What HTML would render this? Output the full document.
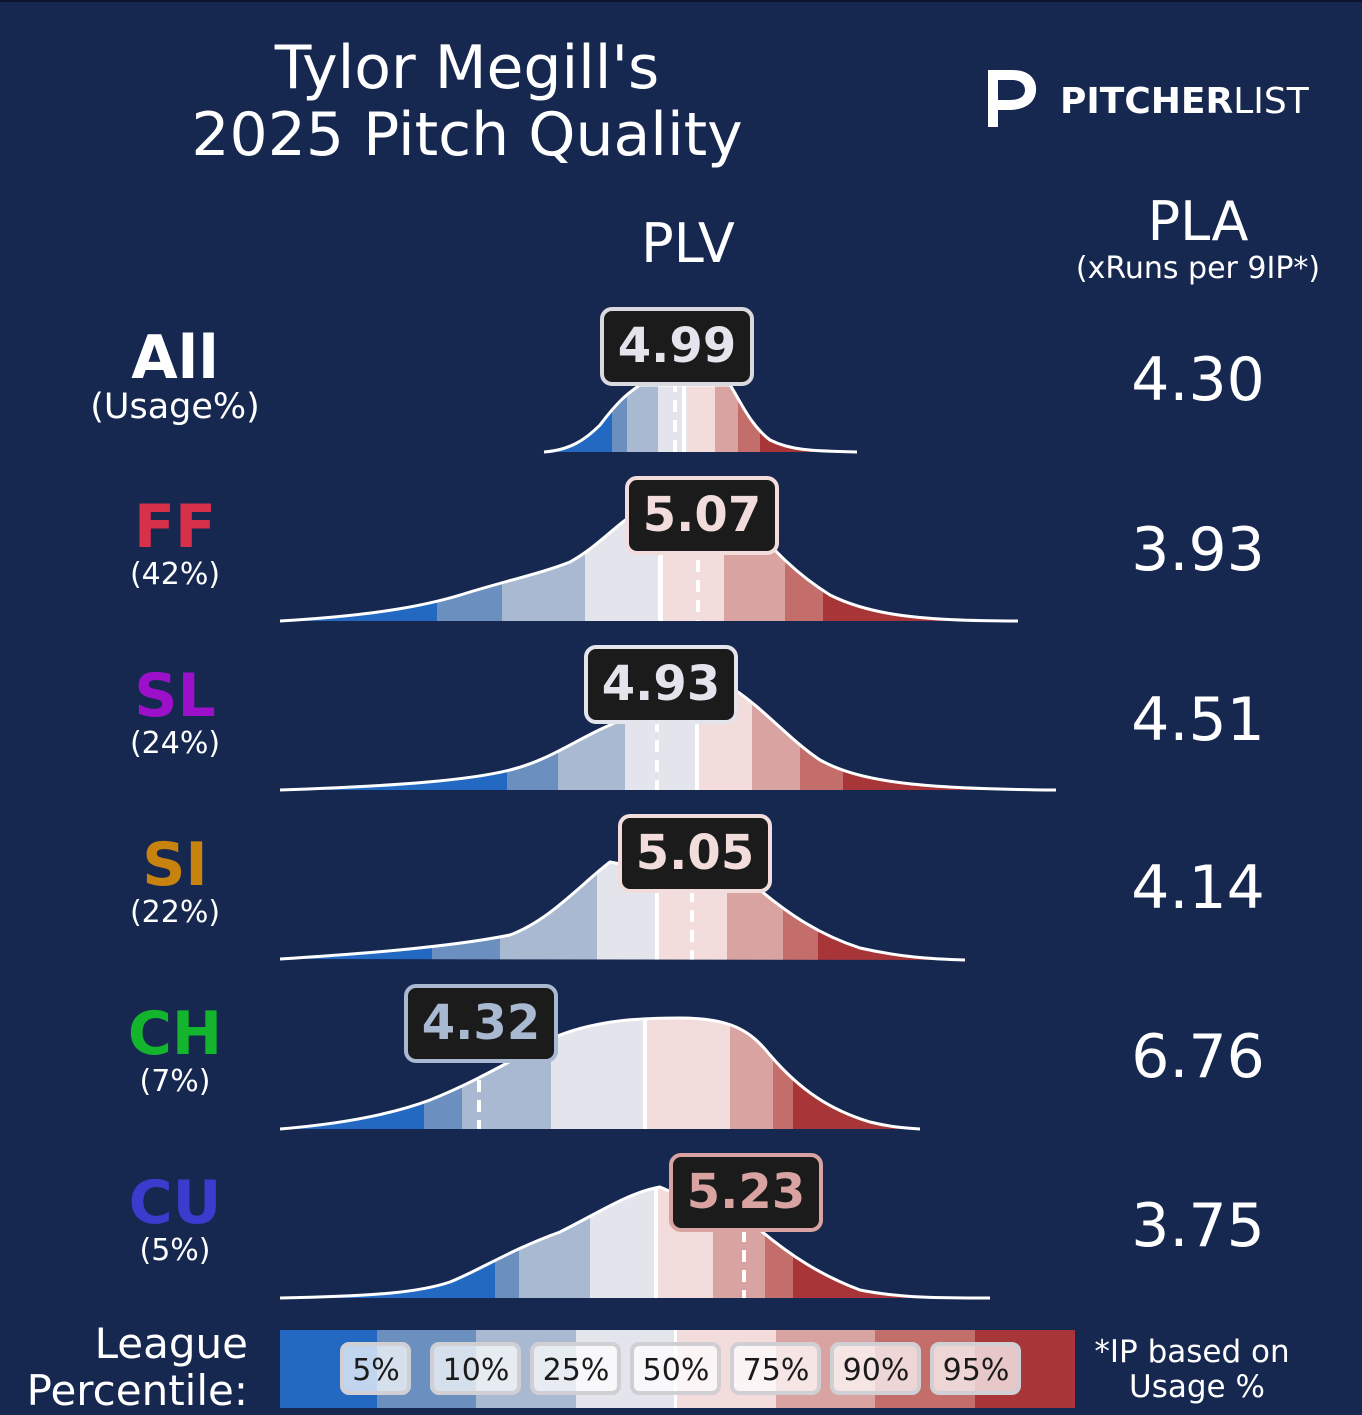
<!DOCTYPE html>
<html><head><meta charset="utf-8"><style>
html,body{margin:0;padding:0;background:#172850;}
svg{display:block;}
text{font-family:"DejaVu Sans","Liberation Sans",sans-serif;}
</style></head><body>
<svg width="1362" height="1415" viewBox="0 0 1362 1415" xmlns="http://www.w3.org/2000/svg">
<rect width="1362" height="1415" fill="#172850"/>
<rect width="1362" height="2" fill="#0b1530"/>
<defs>
<clipPath id="c0"><path d="M544,452 C570,450 585,440 600,425 C615,405 625,395 640,385 L730,385 C740,400 750,425 770,440 C790,450 810,451 857,452 Z"/></clipPath>
<clipPath id="c1"><path d="M280,621 C380,615 430,605 470,592 C510,580 545,572 570,562 C600,545 615,525 640,510 L740,512 C770,545 790,570 830,595 C870,615 920,621 1018,621 Z"/></clipPath>
<clipPath id="c2"><path d="M280,790 C400,786 470,780 510,770 C550,760 575,740 610,725 C625,718 635,712 650,705 L735,690 C765,710 790,740 820,760 C860,782 920,789 1056,790 Z"/></clipPath>
<clipPath id="c3"><path d="M280,959 C390,952 460,945 510,935 C550,920 580,885 610,862 L760,890 C790,915 820,935 860,948 C900,957 930,959 965,960 Z"/></clipPath>
<clipPath id="c4"><path d="M280,1129 C340,1124 390,1115 430,1100 C480,1080 520,1055 560,1035 C600,1020 640,1018 680,1018 C730,1018 750,1030 770,1055 C800,1090 830,1110 870,1122 C890,1127 905,1128 920,1129 Z"/></clipPath>
<clipPath id="c5"><path d="M280,1298 C380,1296 420,1292 450,1282 C480,1270 510,1250 560,1232 C600,1212 630,1192 660,1187 L760,1230 C790,1255 820,1275 860,1290 C900,1298 940,1298 990,1298 Z"/></clipPath>
</defs>

<text x="467" y="88" font-size="60" fill="#fff" text-anchor="middle">Tylor Megill's</text>
<text x="467" y="155" font-size="60" fill="#fff" text-anchor="middle">2025 Pitch Quality</text>
<path d="M988,70 L998,70 L998,127 L988,127 Z" fill="#fff"/>
<path d="M988,70 L1012,70 C1030,70 1037,80 1036,91 C1035,103 1025,110 1008,110 L998,110 L998,100 L1010,100 C1020,100 1025,96 1025,90 C1025,84 1020,80 1012,80 L988,80 Z" fill="#fff"/>
<text x="1060" y="113" font-size="36" fill="#fff" font-weight="bold">PITCHER<tspan font-weight="normal">LIST</tspan></text>

<text x="688" y="262" font-size="54" fill="#fff" text-anchor="middle">PLV</text>
<text x="1198" y="240" font-size="54" fill="#fff" text-anchor="middle">PLA</text>
<text x="1198" y="278" font-size="30" fill="#fff" text-anchor="middle">(xRuns per 9IP*)</text>

<text x="175" y="378" font-size="60" font-weight="bold" fill="#fff" text-anchor="middle">All</text>
<text x="175" y="418" font-size="35" fill="#fff" text-anchor="middle">(Usage%)</text>
<text x="175" y="547" font-size="60" font-weight="bold" fill="#d7304a" text-anchor="middle">FF</text>
<text x="175" y="584" font-size="30" fill="#fff" text-anchor="middle">(42%)</text>
<text x="175" y="716" font-size="60" font-weight="bold" fill="#9b10c8" text-anchor="middle">SL</text>
<text x="175" y="753" font-size="30" fill="#fff" text-anchor="middle">(24%)</text>
<text x="175" y="885" font-size="60" font-weight="bold" fill="#c8820e" text-anchor="middle">SI</text>
<text x="175" y="922" font-size="30" fill="#fff" text-anchor="middle">(22%)</text>
<text x="175" y="1054" font-size="60" font-weight="bold" fill="#12b52b" text-anchor="middle">CH</text>
<text x="175" y="1091" font-size="30" fill="#fff" text-anchor="middle">(7%)</text>
<text x="175" y="1223" font-size="60" font-weight="bold" fill="#3b3bce" text-anchor="middle">CU</text>
<text x="175" y="1260" font-size="30" fill="#fff" text-anchor="middle">(5%)</text>

<g font-size="60" fill="#fff" text-anchor="middle">
<text x="1198" y="400">4.30</text>
<text x="1198" y="570">3.93</text>
<text x="1198" y="740">4.51</text>
<text x="1198" y="908">4.14</text>
<text x="1198" y="1077">6.76</text>
<text x="1198" y="1246">3.75</text>
</g>

<g clip-path="url(#c0)">
<rect x="540" y="300" width="72" height="160" fill="#2369c2"/>
<rect x="612" y="300" width="15" height="160" fill="#6b8fbf"/>
<rect x="627" y="300" width="31" height="160" fill="#a9b9d2"/>
<rect x="658" y="300" width="29" height="160" fill="#e4e5ec"/>
<rect x="687" y="300" width="28" height="160" fill="#f2dcdc"/>
<rect x="715" y="300" width="23" height="160" fill="#d9a3a1"/>
<rect x="738" y="300" width="22" height="160" fill="#c46e6b"/>
<rect x="760" y="300" width="100" height="160" fill="#a83638"/>
<rect x="682" y="300" width="4" height="160" fill="#fff"/>
<line x1="675" y1="300" x2="675" y2="452" stroke="#fff" stroke-width="4" stroke-dasharray="12,8"/>
</g>
<path d="M544,452 C570,450 585,440 600,425 C615,405 625,395 640,385 L730,385 C740,400 750,425 770,440 C790,450 810,451 857,452" fill="none" stroke="#fff" stroke-width="3"/>
<rect x="602" y="309" width="150" height="75" rx="10" fill="#1b1b1b" stroke="#d9d9e0" stroke-width="4"/>
<text x="677" y="362" font-size="48" font-weight="bold" fill="#e4e5ec" text-anchor="middle">4.99</text>

<g clip-path="url(#c1)">
<rect x="278" y="480" width="159" height="145" fill="#2369c2"/>
<rect x="437" y="480" width="65" height="145" fill="#6b8fbf"/>
<rect x="502" y="480" width="83" height="145" fill="#a9b9d2"/>
<rect x="585" y="480" width="78" height="145" fill="#e4e5ec"/>
<rect x="663" y="480" width="61" height="145" fill="#f2dcdc"/>
<rect x="724" y="480" width="61" height="145" fill="#d9a3a1"/>
<rect x="785" y="480" width="38" height="145" fill="#c46e6b"/>
<rect x="823" y="480" width="200" height="145" fill="#a83638"/>
<rect x="658" y="480" width="5" height="145" fill="#fff"/>
<line x1="698" y1="480" x2="698" y2="621" stroke="#fff" stroke-width="4" stroke-dasharray="12,8"/>
</g>
<path d="M280,621 C380,615 430,605 470,592 C510,580 545,572 570,562 C600,545 615,525 640,510 L740,512 C770,545 790,570 830,595 C870,615 920,621 1018,621" fill="none" stroke="#fff" stroke-width="3"/>
<rect x="627" y="478" width="150" height="75" rx="10" fill="#1b1b1b" stroke="#f2dcdc" stroke-width="4"/>
<text x="702" y="531" font-size="48" font-weight="bold" fill="#f2dcdc" text-anchor="middle">5.07</text>

<g clip-path="url(#c2)">
<rect x="278" y="640" width="229" height="155" fill="#2369c2"/>
<rect x="507" y="640" width="51" height="155" fill="#6b8fbf"/>
<rect x="558" y="640" width="67" height="155" fill="#a9b9d2"/>
<rect x="625" y="640" width="74" height="155" fill="#e4e5ec"/>
<rect x="699" y="640" width="53" height="155" fill="#f2dcdc"/>
<rect x="752" y="640" width="48" height="155" fill="#d9a3a1"/>
<rect x="800" y="640" width="43" height="155" fill="#c46e6b"/>
<rect x="843" y="640" width="220" height="155" fill="#a83638"/>
<rect x="695" y="640" width="4" height="155" fill="#fff"/>
<line x1="657" y1="640" x2="657" y2="790" stroke="#fff" stroke-width="4" stroke-dasharray="12,8"/>
</g>
<path d="M280,790 C400,786 470,780 510,770 C550,760 575,740 610,725 C625,718 635,712 650,705 L735,690 C765,710 790,740 820,760 C860,782 920,789 1056,790" fill="none" stroke="#fff" stroke-width="3"/>
<rect x="586" y="647" width="150" height="75" rx="10" fill="#1b1b1b" stroke="#e4e5ec" stroke-width="4"/>
<text x="661" y="700" font-size="48" font-weight="bold" fill="#e4e5ec" text-anchor="middle">4.93</text>

<g clip-path="url(#c3)">
<rect x="278" y="810" width="154" height="155" fill="#2369c2"/>
<rect x="432" y="810" width="68" height="155" fill="#6b8fbf"/>
<rect x="500" y="810" width="97" height="155" fill="#a9b9d2"/>
<rect x="597" y="810" width="62" height="155" fill="#e4e5ec"/>
<rect x="659" y="810" width="68" height="155" fill="#f2dcdc"/>
<rect x="727" y="810" width="56" height="155" fill="#d9a3a1"/>
<rect x="783" y="810" width="35" height="155" fill="#c46e6b"/>
<rect x="818" y="810" width="150" height="155" fill="#a83638"/>
<rect x="655" y="810" width="4" height="155" fill="#fff"/>
<line x1="692" y1="810" x2="692" y2="960" stroke="#fff" stroke-width="4" stroke-dasharray="12,8"/>
</g>
<path d="M280,959 C390,952 460,945 510,935 C550,920 580,885 610,862 L760,890 C790,915 820,935 860,948 C900,957 930,959 965,960" fill="none" stroke="#fff" stroke-width="3"/>
<rect x="620" y="816" width="150" height="75" rx="10" fill="#1b1b1b" stroke="#f2dcdc" stroke-width="4"/>
<text x="695" y="869" font-size="48" font-weight="bold" fill="#f2dcdc" text-anchor="middle">5.05</text>

<g clip-path="url(#c4)">
<rect x="278" y="1000" width="146" height="135" fill="#2369c2"/>
<rect x="424" y="1000" width="38" height="135" fill="#6b8fbf"/>
<rect x="462" y="1000" width="89" height="135" fill="#a9b9d2"/>
<rect x="551" y="1000" width="96" height="135" fill="#e4e5ec"/>
<rect x="647" y="1000" width="83" height="135" fill="#f2dcdc"/>
<rect x="730" y="1000" width="43" height="135" fill="#d9a3a1"/>
<rect x="773" y="1000" width="20" height="135" fill="#c46e6b"/>
<rect x="793" y="1000" width="130" height="135" fill="#a83638"/>
<rect x="643" y="1000" width="4" height="135" fill="#fff"/>
<line x1="479" y1="1000" x2="479" y2="1130" stroke="#fff" stroke-width="4" stroke-dasharray="12,8"/>
</g>
<path d="M280,1129 C340,1124 390,1115 430,1100 C480,1080 520,1055 560,1035 C600,1020 640,1018 680,1018 C730,1018 750,1030 770,1055 C800,1090 830,1110 870,1122 C890,1127 905,1128 920,1129" fill="none" stroke="#fff" stroke-width="3"/>
<rect x="406" y="986" width="150" height="75" rx="10" fill="#1b1b1b" stroke="#a9b9d2" stroke-width="4"/>
<text x="481" y="1039" font-size="48" font-weight="bold" fill="#a9b9d2" text-anchor="middle">4.32</text>

<g clip-path="url(#c5)">
<rect x="278" y="1170" width="217" height="135" fill="#2369c2"/>
<rect x="495" y="1170" width="24" height="135" fill="#6b8fbf"/>
<rect x="519" y="1170" width="71" height="135" fill="#a9b9d2"/>
<rect x="590" y="1170" width="68" height="135" fill="#e4e5ec"/>
<rect x="658" y="1170" width="55" height="135" fill="#f2dcdc"/>
<rect x="713" y="1170" width="52" height="135" fill="#d9a3a1"/>
<rect x="765" y="1170" width="28" height="135" fill="#c46e6b"/>
<rect x="793" y="1170" width="200" height="135" fill="#a83638"/>
<rect x="654" y="1170" width="4" height="135" fill="#fff"/>
<line x1="744" y1="1170" x2="744" y2="1299" stroke="#fff" stroke-width="4" stroke-dasharray="12,8"/>
</g>
<path d="M280,1298 C380,1296 420,1292 450,1282 C480,1270 510,1250 560,1232 C600,1212 630,1192 660,1187 L760,1230 C790,1255 820,1275 860,1290 C900,1298 940,1298 990,1298" fill="none" stroke="#fff" stroke-width="3"/>
<rect x="671" y="1155" width="150" height="75" rx="10" fill="#1b1b1b" stroke="#d9a3a1" stroke-width="4"/>
<text x="746" y="1208" font-size="48" font-weight="bold" fill="#d9a3a1" text-anchor="middle">5.23</text>

<text x="248" y="1358" font-size="42" fill="#fff" text-anchor="end">League</text>
<text x="248" y="1405" font-size="42" fill="#fff" text-anchor="end">Percentile:</text>
<rect x="280" y="1330" width="97" height="78" fill="#2369c2"/>
<rect x="377" y="1330" width="99" height="78" fill="#6b8fbf"/>
<rect x="476" y="1330" width="100" height="78" fill="#a9b9d2"/>
<rect x="576" y="1330" width="100" height="78" fill="#e4e5ec"/>
<rect x="676" y="1330" width="100" height="78" fill="#f2dcdc"/>
<rect x="776" y="1330" width="99" height="78" fill="#d9a3a1"/>
<rect x="875" y="1330" width="100" height="78" fill="#c46e6b"/>
<rect x="975" y="1330" width="100" height="78" fill="#a83638"/>
<rect x="674" y="1330" width="3" height="78" fill="#fff"/>
<g fill="#ffffff" fill-opacity="0.72" stroke="#cfcfd4" stroke-width="4">
<rect x="342" y="1344" width="67" height="49" rx="7"/>
<rect x="432" y="1344" width="87" height="49" rx="7"/>
<rect x="532" y="1344" width="87" height="49" rx="7"/>
<rect x="632" y="1344" width="87" height="49" rx="7"/>
<rect x="732" y="1344" width="87" height="49" rx="7"/>
<rect x="832" y="1344" width="87" height="49" rx="7"/>
<rect x="932" y="1344" width="87" height="49" rx="7"/>
</g>
<g font-size="30" fill="#1b1b1b" text-anchor="middle">
<text x="376" y="1380">5%</text>
<text x="476" y="1380">10%</text>
<text x="576" y="1380">25%</text>
<text x="676" y="1380">50%</text>
<text x="776" y="1380">75%</text>
<text x="876" y="1380">90%</text>
<text x="976" y="1380">95%</text>
</g>
<text x="1192" y="1362" font-size="31" fill="#fff" text-anchor="middle">*IP based on</text>
<text x="1197" y="1397" font-size="31" fill="#fff" text-anchor="middle">Usage %</text>
</svg>
</body></html>
